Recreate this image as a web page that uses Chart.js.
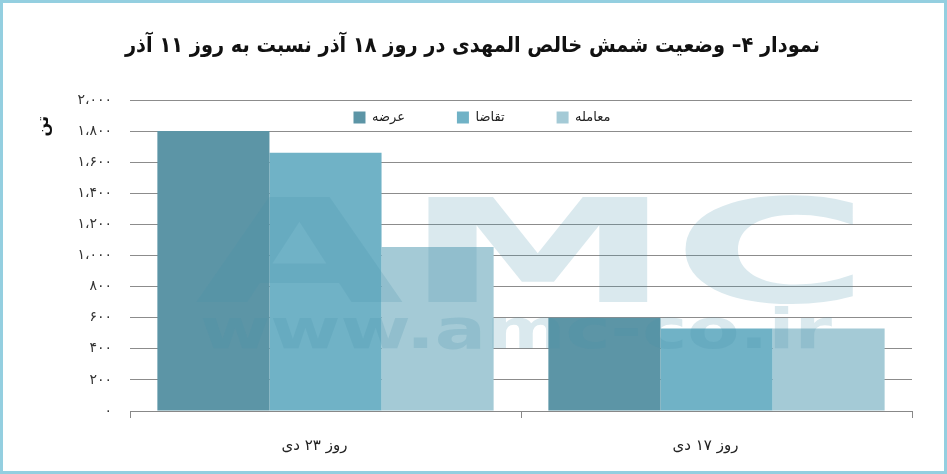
<!DOCTYPE html>
<html>
<head>
<meta charset="utf-8">
<script src="https://cdn.jsdelivr.net/npm/chart.js@4"></script>
<style>
  html, body { margin: 0; padding: 0; background: #fff; }
  #wrap { width: 947px; height: 474px; }
</style>
</head>
<body>
<div id="wrap"><canvas id="chart" width="947" height="474"></canvas></div>
<script>
const categories = ['روز ۲۳ دی', 'روز ۱۷ دی'];
const seriesNames = ['عرضه', 'تقاضا', 'معامله'];
const supply = [1800, 600];
const demand = [1660, 530];
const deals = [1055, 530];
const yTicks = [0, 200, 400, 600, 800, 1000, 1200, 1400, 1600, 1800, 2000];

const colors = ['#5c95a6', '#70b2c6', '#a4cad6'];
const titleText = 'نمودار ۴– وضعیت شمش خالص المهدی در روز ۱۸ آذر نسبت به روز ۱۱ آذر';

function toFa(n) {
    const s = n >= 1000 ? Math.floor(n / 1000) + '،' + String(n % 1000).padStart(3, '0') : String(n);
    return s.replace(/\d/g, d => '۰۱۲۳۴۵۶۷۸۹'[d]);
}

// white page + light blue frame
const frame = {
    id: 'frame',
    beforeDraw(chart) {
        const ctx = chart.ctx;
        ctx.save();
        ctx.fillStyle = '#fff';
        ctx.fillRect(0, 0, chart.width, chart.height);
        ctx.restore();
    },
    afterDraw(chart) {
        const ctx = chart.ctx;
        ctx.save();
        ctx.strokeStyle = '#94cfe0';
        ctx.lineWidth = 3;
        ctx.strokeRect(1.5, 1.5, chart.width - 3, chart.height - 3);
        ctx.restore();
    }
};

// move the legend row inside the top of the plot area, centre the title on the page
const legendInPlot = {
    id: 'legendInPlot',
    beforeDraw(chart) {
        const lg = chart.legend;
        const p = lg.options.labels.padding;
        lg.top = chart.chartArea.top + 11 - p;
        lg.bottom = chart.chartArea.top + 40;
        lg.left = 182;
        lg.right = 782;
        chart.titleBlock.left = 0;
        chart.titleBlock.right = 945;
    }
};

// faint AMC watermark over the plot
const watermark = {
    id: 'watermark',
    afterDatasetsDraw(chart) {
        const ctx = chart.ctx;
        ctx.save();
        ctx.fillStyle = 'rgba(70, 145, 172, 0.2)';
        ctx.textBaseline = 'alphabetic';
        ctx.textAlign = 'left';

        ctx.font = 'bold 144px "DejaVu Sans"';
        let w = ctx.measureText('AMC').width;
        ctx.save();
        ctx.translate(195, 302);
        ctx.scale(675 / w, 1);
        ctx.fillText('AMC', 0, 0);
        ctx.restore();

        ctx.font = 'bold 56px "DejaVu Sans"';
        w = ctx.measureText('www.amc-co.ir').width;
        ctx.save();
        ctx.translate(200, 348);
        ctx.scale(632 / w, 1);
        ctx.fillText('www.amc-co.ir', 0, 0);
        ctx.restore();
        ctx.restore();
    }
};

const chart = new Chart(document.getElementById('chart'), {
    type: 'bar',
    data: {
        labels: categories,
        datasets: [
            { label: seriesNames[0], data: supply, backgroundColor: colors[0] },
            { label: seriesNames[1], data: demand, backgroundColor: colors[1] },
            { label: seriesNames[2], data: deals, backgroundColor: colors[2] }
        ]
    },
    options: {
        responsive: false,
        animation: false,
        layout: { padding: { left: 0, right: 35, top: 0, bottom: 0 } },
        datasets: { bar: { barPercentage: 1, categoryPercentage: 0.86 } },
        plugins: {
            title: {
                display: true,
                text: titleText,
                color: '#111',
                font: { family: '"DejaVu Sans Condensed", "DejaVu Sans"', size: 21.5, weight: 'bold' },
                padding: { top: 34, bottom: 40 }
            },
            legend: {
                position: 'top',
                align: 'center',
                maxHeight: 1,
                labels: {
                    color: '#222',
                    font: { family: '"DejaVu Sans"', size: 13 },
                    boxWidth: 12,
                    boxHeight: 12,
                    padding: 52,
                    generateLabels(chart) {
                        const items = Chart.defaults.plugins.legend.labels.generateLabels(chart);
                        items.forEach(it => { it.lineWidth = 0; });
                        return items;
                    }
                }
            },
            tooltip: { enabled: false }
        },
        scales: {
            x: {
                grid: { display: true, drawOnChartArea: false, drawTicks: true, tickLength: 7, color: '#888' },
                border: { display: true, color: '#888' },
                ticks: {
                    color: '#222',
                    font: { family: '"DejaVu Sans"', size: 15 },
                    padding: 19,
                    labelOffset: -11
                },
                afterFit(scale) { scale.height = 63; }
            },
            y: {
                min: 0,
                max: 2000,
                afterBuildTicks(scale) { scale.ticks = yTicks.map(v => ({ value: v })); },
                grid: { color: '#8c8c8c', drawTicks: false },
                border: { display: false },
                ticks: {
                    color: '#333',
                    font: { family: '"DejaVu Sans"', size: 14 },
                    padding: 18,
                    callback: v => toFa(v)
                },
                title: {
                    display: true,
                    text: 'تن\u2003',
                    align: 'end',
                    color: '#111',
                    font: { family: '"DejaVu Sans"', size: 16, weight: 'bold' },
                    padding: { top: 34, bottom: 0 }
                },
                afterFit(scale) { scale.width = 130; }
            }
        }
    },
    plugins: [frame, legendInPlot, watermark]
});

// pin the top of the plot area at y = 100
const dy = 100 - chart.chartArea.top;
if (dy !== 0) {
    chart.options.plugins.title.padding.bottom += dy;
    chart.update();
}
</script>
</body>
</html>
